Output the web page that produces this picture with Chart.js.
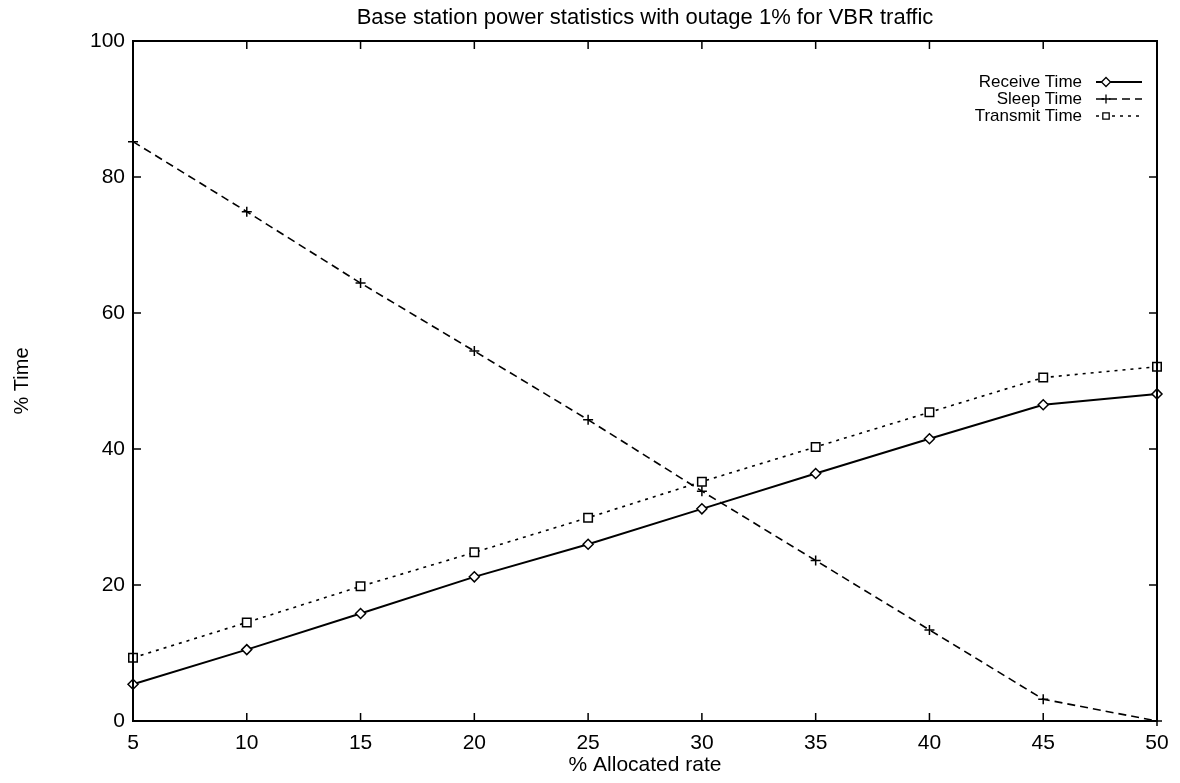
<!DOCTYPE html>
<html lang="en">
<head>
  <meta charset="UTF-8">
  <title>Base station power statistics</title>
  <script src="https://cdn.jsdelivr.net/npm/chart.js"></script>
  <style>
    body { margin: 0; background: #fff; }
    #wrap { width: 1180px; height: 783px; position: relative; }
  </style>
</head>
<body>
  <div id="wrap"><canvas id="powerChart"></canvas></div>

  <script>
    // data
    const allocatedRate = [5, 10, 15, 20, 25, 30, 35, 40, 45, 50];
    const receiveTime  = [5.4, 10.5, 15.8, 21.2, 26.0, 31.2, 36.4, 41.5, 46.5, 48.1];
    const sleepTime    = [85.2, 74.9, 64.4, 54.4, 44.3, 33.8, 23.6, 13.4, 3.2, 0.0];
    const transmitTime = [9.3, 14.5, 19.8, 24.8, 29.9, 35.2, 40.3, 45.4, 50.5, 52.1];
    const yTicks = [0, 20, 40, 60, 80, 100];

    const chartTitle = "Base station power statistics with outage 1% for VBR traffic";
    const FONT = "'Liberation Sans', Arial, Helvetica, sans-serif";

    const toPoints = vals => allocatedRate.map((r, i) => ({ x: r, y: vals[i] }));

    // gnuplot-like frame, inner ticks, title and legend
    const framePlugin = {
      id: 'frame',
      afterDraw(chart) {
        const { ctx, chartArea: a, scales } = chart;
        ctx.save();
        ctx.strokeStyle = '#000';
        ctx.lineWidth = 2;
        ctx.setLineDash([]);
        ctx.strokeRect(a.left, a.top, a.right - a.left, a.bottom - a.top);

        ctx.lineWidth = 1.5;
        const tl = 8;
        scales.x.ticks.forEach(t => {
          const px = scales.x.getPixelForValue(t.value);
          ctx.beginPath();
          ctx.moveTo(px, a.bottom); ctx.lineTo(px, a.bottom - tl);
          ctx.moveTo(px, a.top); ctx.lineTo(px, a.top + tl);
          ctx.stroke();
        });
        scales.y.ticks.forEach(t => {
          const py = scales.y.getPixelForValue(t.value);
          ctx.beginPath();
          ctx.moveTo(a.left, py); ctx.lineTo(a.left + tl, py);
          ctx.moveTo(a.right, py); ctx.lineTo(a.right - tl, py);
          ctx.stroke();
        });

        // title
        ctx.fillStyle = '#000';
        ctx.font = '22px ' + FONT;
        ctx.textAlign = 'center';
        ctx.textBaseline = 'middle';
        ctx.fillText(chartTitle, (a.left + a.right) / 2, 18);

        // legend, text right-aligned with the sample on the right
        ctx.font = '17px ' + FONT;
        ctx.textAlign = 'right';
        chart.data.datasets.forEach((ds, i) => {
          const y = 82 + i * 17;
          ctx.fillStyle = '#000';
          ctx.fillText(ds.label, 1082, y);
          ctx.beginPath();
          ctx.setLineDash(ds.borderDash || []);
          ctx.lineWidth = ds.borderWidth;
          ctx.moveTo(1096, y); ctx.lineTo(1142, y);
          ctx.stroke();
          ctx.setLineDash([]);
          ctx.lineWidth = 1.3;
          ctx.fillStyle = '#fff';
          Chart.helpers.drawPoint(ctx, {
            pointStyle: ds.pointStyle, radius: 4.5, rotation: 0,
            borderWidth: 1.3
          }, 1106, y);
        });
        ctx.restore();
      }
    };

    new Chart(document.getElementById('powerChart'), {
      type: 'line',
      data: {
        datasets: [
          {
            label: 'Receive Time',
            data: toPoints(receiveTime),
            borderColor: '#000', borderWidth: 2,
            pointStyle: 'rectRot', pointRadius: 5,
            pointBackgroundColor: '#fff', pointBorderColor: '#000', pointBorderWidth: 1.5,
            clip: false
          },
          {
            label: 'Sleep Time',
            data: toPoints(sleepTime),
            borderColor: '#000', borderWidth: 1.6, borderDash: [8, 5],
            pointStyle: 'cross', pointRadius: 5,
            pointBorderColor: '#000', pointBorderWidth: 1.5,
            clip: false
          },
          {
            label: 'Transmit Time',
            data: toPoints(transmitTime),
            borderColor: '#000', borderWidth: 1.6, borderDash: [3, 5],
            pointStyle: 'rect', pointRadius: 6,
            pointBackgroundColor: '#fff', pointBorderColor: '#000', pointBorderWidth: 1.5,
            clip: false
          }
        ]
      },
      options: {
        responsive: true,
        maintainAspectRatio: false,
        animation: false,
        layout: { padding: { top: 41, right: 23, left: 0, bottom: 0 } },
        plugins: {
          legend: { display: false },
          title: { display: false },
          tooltip: { enabled: false }
        },
        scales: {
          x: {
            type: 'linear',
            min: 5, max: 50,
            afterFit: s => { s.height = 62; },
            grid: { display: false, drawTicks: false },
            border: { display: false },
            ticks: {
              stepSize: 5, padding: 10, color: '#000',
              font: { family: FONT, size: 21 }
            },
            title: {
              display: true, text: '% Allocated rate', color: '#000',
              font: { family: FONT, size: 21 },
              padding: { top: 0, bottom: 5 }
            }
          },
          y: {
            min: 0, max: 100,
            afterFit: s => { s.width = 133; },
            afterBuildTicks: s => { s.ticks = yTicks.map(v => ({ value: v })); },
            grid: { display: false, drawTicks: false },
            border: { display: false },
            ticks: {
              padding: 8, color: '#000',
              font: { family: FONT, size: 21 }
            },
            title: {
              display: true, text: '% Time', color: '#000',
              font: { family: FONT, size: 20 },
              padding: { top: 10, bottom: 0 }
            }
          }
        }
      },
      plugins: [framePlugin]
    });
  </script>
</body>
</html>
